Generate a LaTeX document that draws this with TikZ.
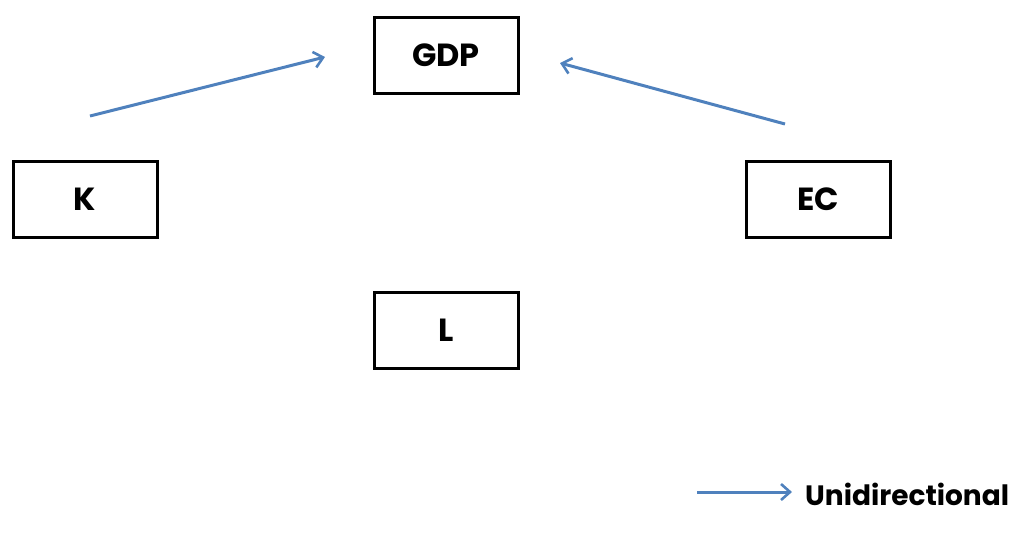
\documentclass[tikz,border=0pt]{standalone}
\usepackage{fontspec}
\setmainfont{Poppins}
\usetikzlibrary{arrows.meta}
\definecolor{arrowblue}{RGB}{79,129,189}
\begin{document}
\begin{tikzpicture}[x=1pt,y=-1pt,
  box/.style={draw=black,line width=3pt,minimum width=144pt,minimum height=76pt,inner sep=0pt,
    font=\fontsize{32}{34}\selectfont\bfseries},
  link/.style={draw=arrowblue,line width=3pt,-{Straight Barb[length=9pt,width=16pt,line width=2.6pt]}}]
\useasboundingbox (0,0) rectangle (1015,539);
\node[box] (gdp) at (446,55) {GDP};
\node[box] (k) at (85,199) {K};
\node[box] (ec) at (818,199) {EC};
\node[box] (l) at (446,330) {L};
\coordinate (k1) at (90,116);
\coordinate (k2) at (325,57);
\coordinate (e1) at (785,124);
\coordinate (e2) at (560,63);
\coordinate (lg1) at (697,492);
\coordinate (lg2) at (792,492);
\draw[link] (k1) -- (k2);
\draw[link] (e1) -- (e2);
\draw[link] (lg1) -- (lg2);
\node[anchor=west,inner sep=0pt,font=\fontsize{28}{30}\selectfont\bfseries] (leg) at (805,494) {Unidirectional};
\end{tikzpicture}
\end{document}
